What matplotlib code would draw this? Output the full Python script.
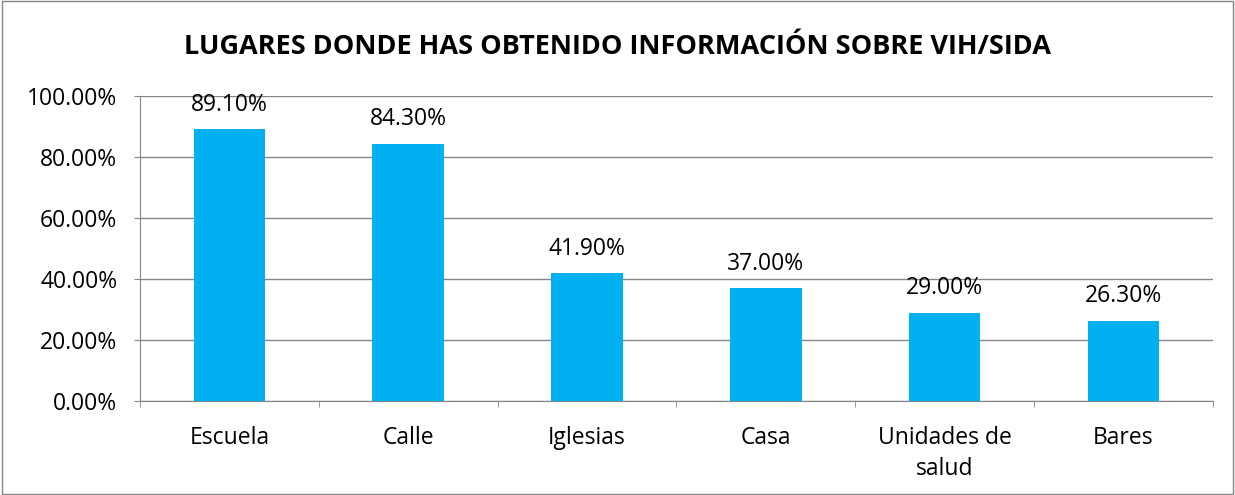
import matplotlib.pyplot as plt
from matplotlib.ticker import FuncFormatter, FixedLocator
from matplotlib.patches import Rectangle

categories = ["Escuela", "Calle", "Iglesias", "Casa", "Unidades de\nsalud", "Bares"]
values = [89.10, 84.30, 41.90, 37.00, 29.00, 26.30]
title = "LUGARES DONDE HAS OBTENIDO INFORMACIÓN SOBRE VIH/SIDA"

plt.rcParams['font.family'] = ['Open Sans', 'DejaVu Sans']

fig = plt.figure(figsize=(12.35, 4.95), dpi=100)
ax = fig.add_axes([0.1134, 0.19, 0.8686, 0.616])

x = range(len(categories))
bars = ax.bar(x, values, width=0.4, color="#00B0F0", zorder=3)

for xi, v in zip(x, values):
    ax.annotate("%.2f%%" % v, (xi, v), xytext=(0, 9), textcoords="offset points",
                ha="center", va="bottom", fontsize=16.5)

ax.set_ylim(0, 100)
ax.set_xlim(-0.5, len(categories) - 0.5)
ax.set_yticks([0, 20, 40, 60, 80, 100])
ax.yaxis.set_major_formatter(FuncFormatter(lambda v, p: "%.2f%%" % v))
ax.yaxis.grid(True, color="#868686", linewidth=1, zorder=0)

ax.set_xticks(list(x))
ax.set_xticklabels(categories, fontsize=16.5, linespacing=1.4)
ax.xaxis.set_minor_locator(FixedLocator([i - 0.5 for i in range(len(categories) + 1)]))
ax.tick_params(axis="x", which="major", length=0, pad=18)
ax.tick_params(axis="x", which="minor", length=4.5, color="#868686")
ax.tick_params(axis="y", labelsize=16.5, length=4.5, pad=12, color="#868686")

for s in ["top", "right"]:
    ax.spines[s].set_visible(False)
for s in ["left", "bottom"]:
    ax.spines[s].set_color("#868686")

fig.text(0.5, 0.905, title, ha="center", va="center", fontsize=19.5, fontweight="bold")

fig.patches.append(Rectangle((0.002, 0.003), 0.996, 0.994, transform=fig.transFigure,
                             fill=False, edgecolor="#868686", linewidth=1))

fig.savefig("out.png", dpi=100)
